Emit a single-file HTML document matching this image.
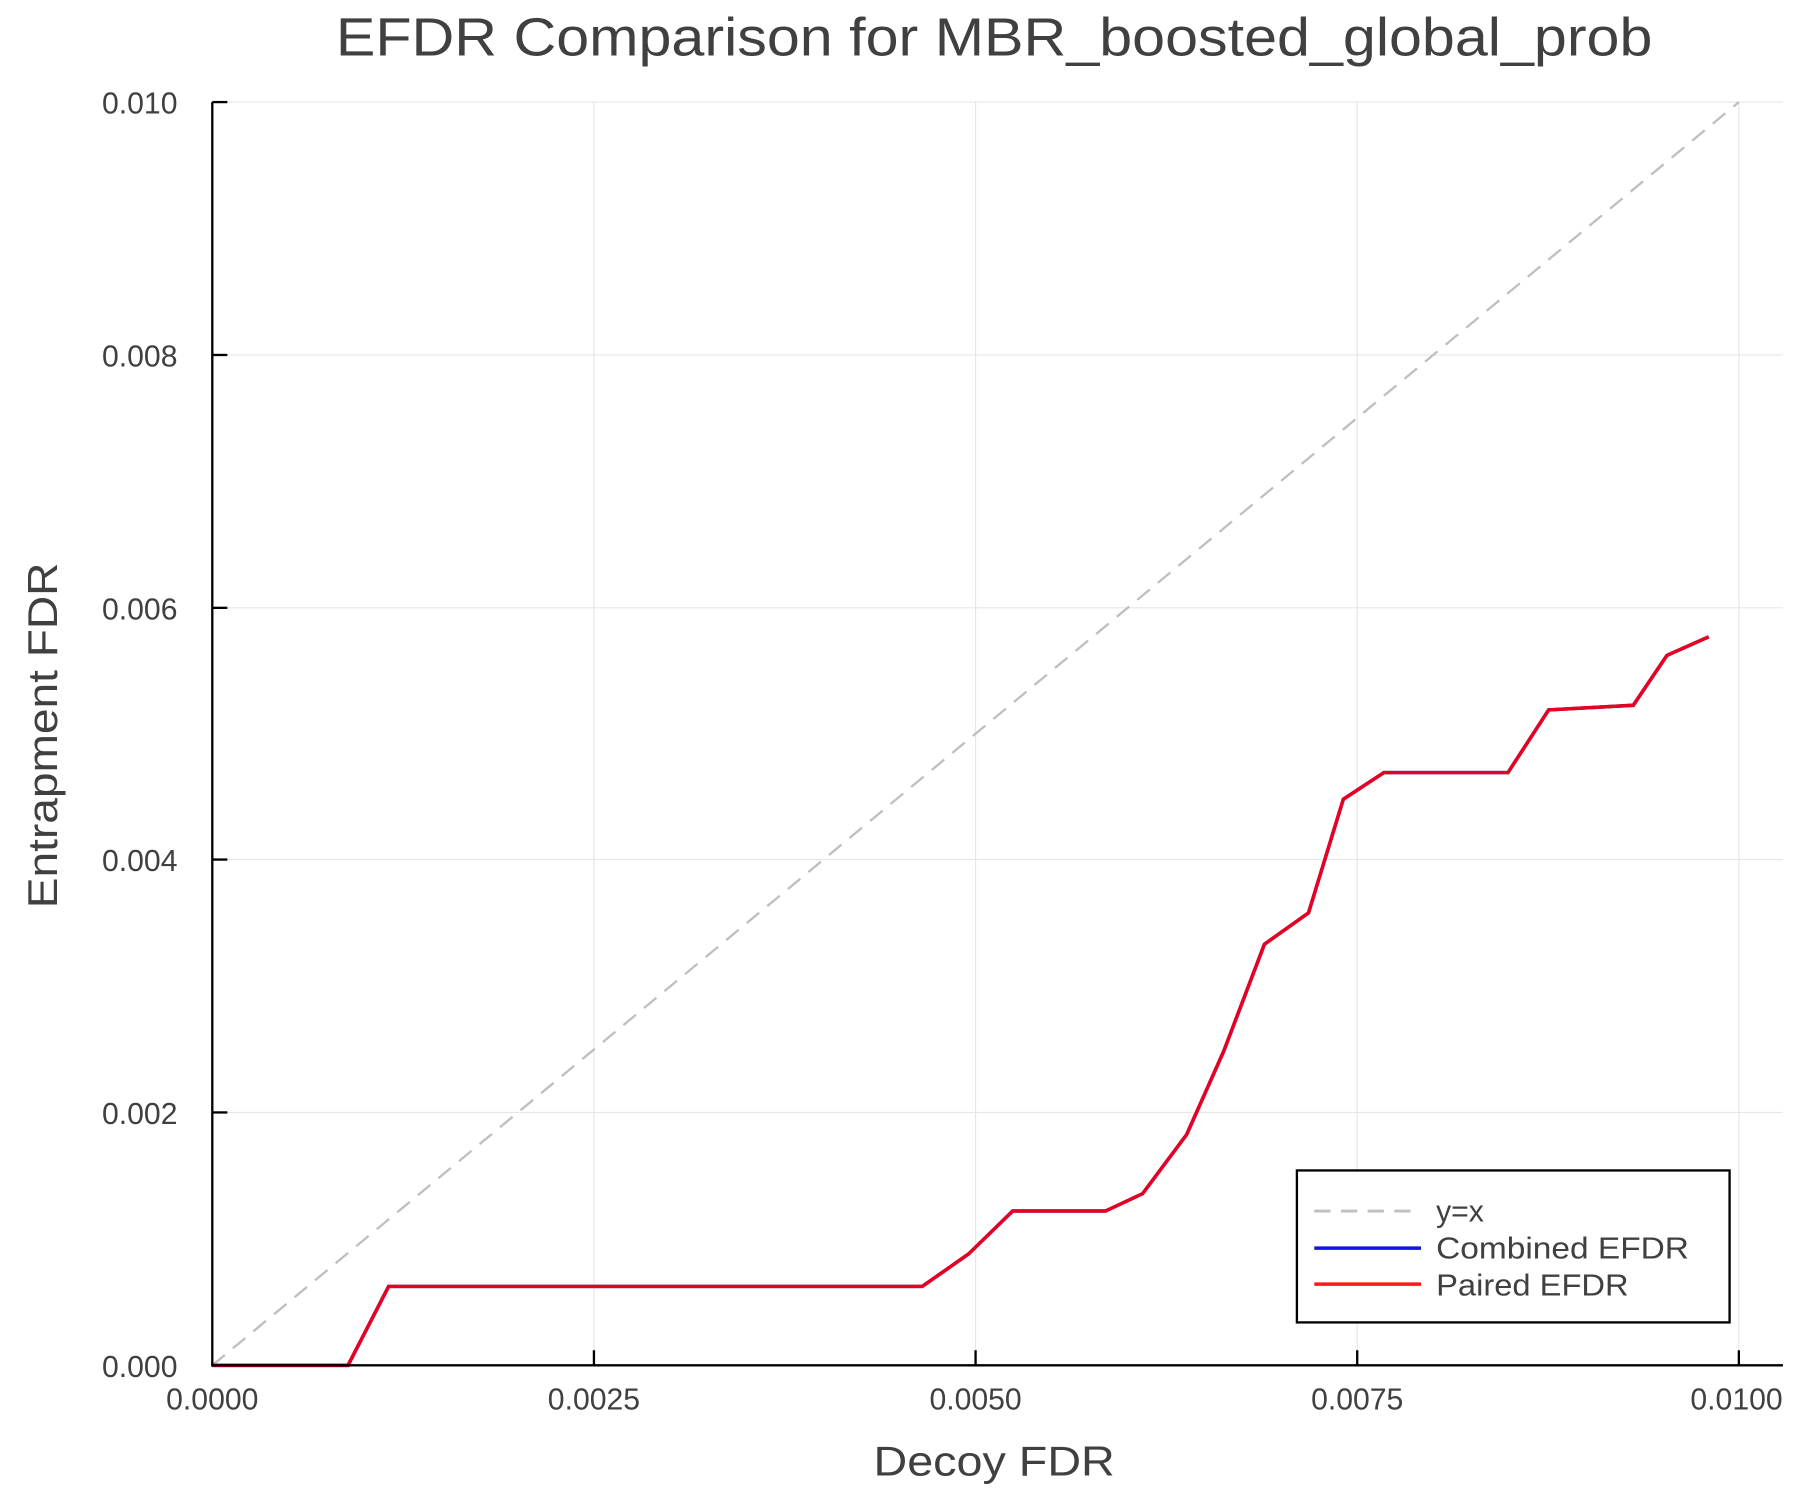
<!DOCTYPE html>
<html><head><meta charset="utf-8"><style>html,body{margin:0;padding:0;background:#fff}svg{display:block}</style></head>
<body>
<svg width="1800" height="1500" viewBox="0 0 1551.7 1293.1" xmlns="http://www.w3.org/2000/svg" font-family="Liberation Sans, sans-serif">
<rect width="1551.7" height="1293.1" fill="#fff"/>
<g stroke="#e6e6e6" stroke-width="1">
<line x1="512" y1="88" x2="512" y2="1177"/><line x1="841" y1="88" x2="841" y2="1177"/><line x1="1170" y1="88" x2="1170" y2="1177"/><line x1="1499" y1="88" x2="1499" y2="1177"/>
<line x1="183" y1="88" x2="1537" y2="88"/><line x1="183" y1="306" x2="1537" y2="306"/><line x1="183" y1="524" x2="1537" y2="524"/><line x1="183" y1="741" x2="1537" y2="741"/><line x1="183" y1="959" x2="1537" y2="959"/>
</g>
<line x1="183" y1="1177" x2="1499" y2="88" stroke="#bfbfbf" stroke-width="2" stroke-dasharray="14,9"/>
<polyline fill="none" stroke="#1010f0" stroke-width="3" points="183,1177 300,1177 335,1109 795,1109 835,1081 873,1044 953,1044 985,1029 1023,978 1055,906 1090,814 1128,787 1158,689 1193,666 1300,666 1335,612 1408,608 1437,565 1473,549"/>
<polyline fill="none" stroke="#e8001e" stroke-width="3" points="183,1177 300,1177 335,1109 795,1109 835,1081 873,1044 953,1044 985,1029 1023,978 1055,906 1090,814 1128,787 1158,689 1193,666 1300,666 1335,612 1408,608 1437,565 1473,549"/>
<g stroke="#000" stroke-width="2">
<line x1="183" y1="88" x2="183" y2="1178"/><line x1="182" y1="1177" x2="1537" y2="1177"/>
<line x1="183" y1="88" x2="196" y2="88"/><line x1="183" y1="306" x2="196" y2="306"/><line x1="183" y1="524" x2="196" y2="524"/><line x1="183" y1="741" x2="196" y2="741"/><line x1="183" y1="959" x2="196" y2="959"/>
<line x1="512" y1="1164" x2="512" y2="1177"/><line x1="841" y1="1164" x2="841" y2="1177"/><line x1="1170" y1="1164" x2="1170" y2="1177"/><line x1="1499" y1="1164" x2="1499" y2="1177"/>
</g>
<g fill="#404040" font-size="26" text-anchor="end">
<text x="153" y="98">0.010</text><text x="153" y="316">0.008</text><text x="153" y="534">0.006</text><text x="153" y="751">0.004</text><text x="153" y="969">0.002</text><text x="153" y="1187">0.000</text>
</g>
<g fill="#404040" font-size="26" text-anchor="middle">
<text x="183" y="1215">0.0000</text><text x="512" y="1215">0.0025</text><text x="841" y="1215">0.0050</text><text x="1170" y="1215">0.0075</text><text x="1497" y="1215">0.0100</text>
</g>
<text x="857" y="48" fill="#404040" font-size="46" text-anchor="middle" textLength="1135" lengthAdjust="spacingAndGlyphs">EFDR Comparison for MBR_boosted_global_prob</text>
<text x="857" y="1272" fill="#404040" font-size="36" text-anchor="middle" textLength="208" lengthAdjust="spacingAndGlyphs">Decoy FDR</text>
<text transform="translate(49,634) rotate(-90)" fill="#404040" font-size="36" text-anchor="middle" textLength="298" lengthAdjust="spacingAndGlyphs">Entrapment FDR</text>
<rect x="1118" y="1009" width="373" height="131" fill="#fff" stroke="#000" stroke-width="2"/>
<line x1="1133" y1="1044" x2="1225" y2="1044" stroke="#bfbfbf" stroke-width="2.5" stroke-dasharray="14,9"/>
<line x1="1133" y1="1076" x2="1225" y2="1076" stroke="#1010f0" stroke-width="3"/>
<line x1="1133" y1="1107" x2="1225" y2="1107" stroke="#ff1a1a" stroke-width="3"/>
<g fill="#404040" font-size="26">
<text x="1238" y="1053">y=x</text>
<text x="1238" y="1085" textLength="218" lengthAdjust="spacingAndGlyphs">Combined EFDR</text>
<text x="1238" y="1117" textLength="166" lengthAdjust="spacingAndGlyphs">Paired EFDR</text>
</g>
</svg>
</body></html>
